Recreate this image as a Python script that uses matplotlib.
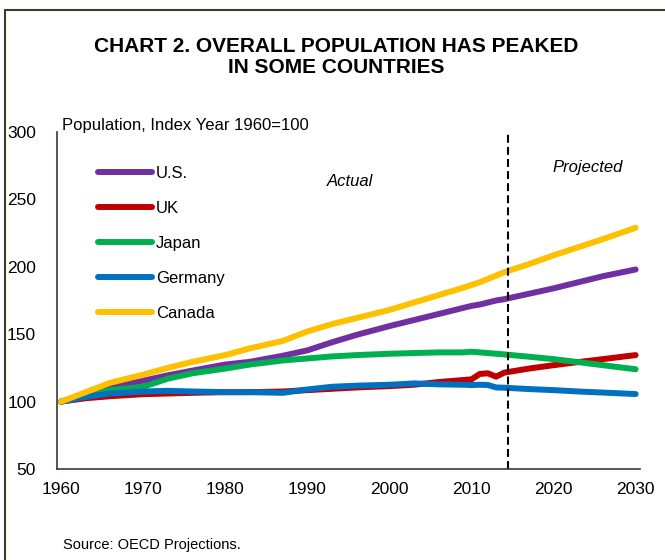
import matplotlib
matplotlib.use("Agg")
from matplotlib import pyplot as plt
from matplotlib.patches import Rectangle

plt.rcParams['font.family'] = ['Liberation Sans', 'DejaVu Sans']

years = [1960, 1963, 1966, 1970, 1973, 1976, 1980, 1983, 1987, 1990, 1993, 1996,
         2000, 2003, 2006, 2009, 2010, 2011, 2012, 2013, 2014, 2017, 2020, 2023,
         2026, 2030]

us = [100, 105.5, 110.5, 115.5, 119.5, 123, 127.5, 129.5, 134, 138, 144, 149.5,
      156, 160.5, 165, 169.5, 171, 172, 173.5, 175, 176, 180, 184, 188.5, 193, 198]
uk = [100, 102.5, 104, 105.5, 106, 106.5, 107, 107, 107.5, 108.5, 109.5, 110.5,
      111.5, 112.5, 114.5, 116, 116.5, 120.5, 121, 118.5, 121.5, 124.5, 127, 129.3,
      131.5, 134.5]
japan = [100, 104, 108.5, 111, 117, 121, 124.5, 127.5, 130.5, 132, 133.5, 134.5,
         135.5, 136, 136.5, 136.5, 137, 136.5, 136, 135.5, 135, 133.3, 131.5, 129.3,
         127, 124]
germany = [100, 103.5, 106, 107.5, 108, 107.5, 107, 107, 106.5, 109, 111, 111.8,
           112.5, 113.5, 112.8, 112.5, 112.3, 112.5, 112.3, 110.5, 110.3, 109.3, 108.5,
           107.5, 106.7, 105.6]
canada = [100, 107, 114, 120, 125, 129.5, 134.5, 139.5, 145, 152, 157.5, 162,
          168, 173.5, 179, 184.5, 186.5, 188.5, 191, 193.5, 196, 202, 208.5, 214.5,
          220.5, 229]

series = [("U.S.", us, "#7030A0"),
          ("UK", uk, "#C00000"),
          ("Japan", japan, "#00B050"),
          ("Germany", germany, "#0070C0"),
          ("Canada", canada, "#FFC000")]

split_year = 2014.4
frame_col = "#34402a"

fig = plt.figure(figsize=(6.65, 5.6), dpi=100)
ax = fig.add_axes([0.0857, 0.1625, 0.8763, 0.6018])

for name, vals, col in series:
    ax.plot(years, vals, color=col, lw=4.3, label=name, solid_capstyle='round')

ax.axvline(split_year, color='black', lw=1.5, ls=(0, (3.8, 2)))

ax.set_xlim(1959.5, 2030.5)
ax.set_ylim(50, 300)
ax.set_xticks(range(1960, 2031, 10))
ax.set_yticks(range(50, 301, 50))
ax.tick_params(length=0, labelsize=12.5)
ax.tick_params(axis='y', pad=15)
ax.tick_params(axis='x', pad=9)
for s in ['top', 'right']:
    ax.spines[s].set_visible(False)
for s in ['left', 'bottom']:
    ax.spines[s].set_color(frame_col)
    ax.spines[s].set_linewidth(1.2)

leg = ax.legend(loc='upper left', bbox_to_anchor=(0.045, 0.944), frameon=False,
                fontsize=12, handlelength=3.2, handletextpad=0.25, labelspacing=1.2)

ax.text(1995.2, 263, "Actual", style='italic', fontsize=12, ha='center', va='center')
ax.text(2024.1, 273.5, "Projected", style='italic', fontsize=12, ha='center', va='center')

fig.text(0.505, 0.898, "CHART 2. OVERALL POPULATION HAS PEAKED\nIN SOME COUNTRIES",
         ha='center', va='center', fontsize=15, fontweight='bold', linespacing=1.15)
fig.text(0.093, 0.776, "Population, Index Year 1960=100", fontsize=12, va='center')
fig.text(0.095, 0.027, "Source: OECD Projections.", fontsize=10.5, va='center')

fig.patches.append(Rectangle((0.008, -0.1), 1.2, 1.082, transform=fig.transFigure,
                             fill=False, edgecolor=frame_col, lw=1.5))

fig.savefig("out.png", dpi=100)
